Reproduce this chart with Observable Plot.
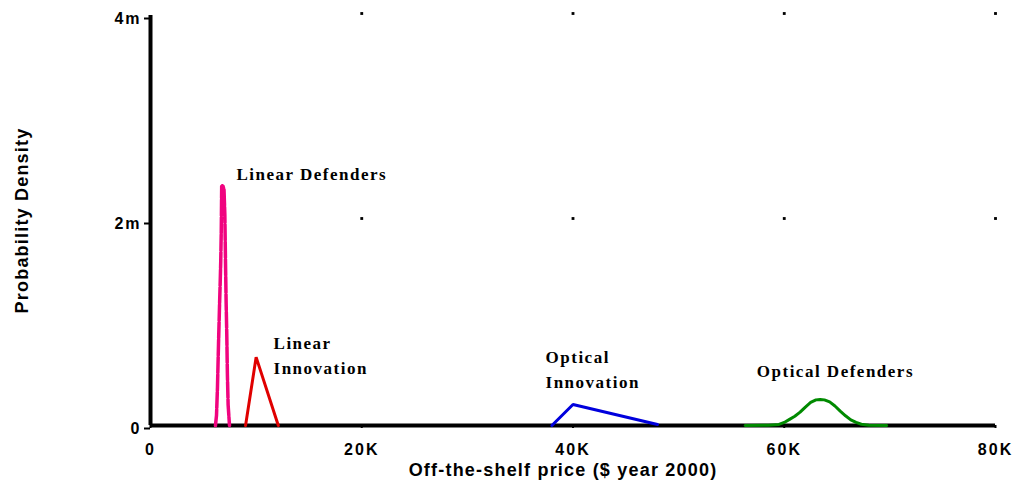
<!DOCTYPE html>
<html>
<head>
<meta charset="utf-8">
<script src="https://cdn.jsdelivr.net/npm/d3@7"></script>
<script src="https://cdn.jsdelivr.net/npm/@observablehq/plot@0.6"></script>
<style>
  html, body { margin: 0; padding: 0; background: #fff; }
  #chart svg { display: block; }
  g[aria-label="x-axis tick label"] text, g[aria-label="y-axis tick label"] text { letter-spacing: 2px; }
</style>
</head>
<body>
<div id="chart"></div>
<script>
// Tick values
const xTicks = [0, 20000, 40000, 60000, 80000];
const yTicks = [0, 0.002, 0.004];
const gridX = [20000, 40000, 60000, 80000];
const gridY = [0.002, 0.004];

// Linear Defenders (price $, density per $ in thousandths)
const ldPrice   = [6150, 6250, 6340, 6440, 6530, 6600, 6650, 6700, 6740, 6850, 6960, 7040, 7100, 7160, 7220, 7280, 7350, 7480];
const ldDensity = [0, 0.1, 0.37, 0.8, 1.15, 1.4, 1.6, 1.9, 2.34, 2.34, 2.3, 2.05, 1.6, 1.2, 0.9, 0.5, 0.2, 0];

// Linear Innovation
const liPrice   = [9000, 10000, 12100];
const liDensity = [0, 0.667, 0];

// Optical Innovation
const oiPrice   = [38000, 40000, 48000];
const oiDensity = [0, 0.205, 0.01];

// Optical Defenders
const odPrice   = [56300, 58500, 59500, 60000, 60500, 61000, 61500, 62000, 62500, 63000, 63400, 63800, 64300, 64800, 65300, 65800, 66300, 66800, 67300, 68000, 69700];
const odDensity = [0, 0.002, 0.01, 0.03, 0.06, 0.09, 0.13, 0.18, 0.225, 0.25, 0.254, 0.25, 0.23, 0.19, 0.14, 0.095, 0.055, 0.03, 0.012, 0.003, 0];

// Curve labels (anchored in data units)
const labelText  = ["Linear Defenders", "Linear\nInnovation", "Optical\nInnovation", "Optical Defenders"];
const labelPrice = [8140, 11650, 37400, 57400];
const labelDens  = [2.475, 0.70, 0.565, 0.547];

const xTitle = "Off-the-shelf price ($ year 2000)";
const yTitle = "Probability Density";

const series = [
  {price: ldPrice, dens: ldDensity, color: "#F0047F", dash: "16,1.5", width: 3.5},
  {price: liPrice, dens: liDensity, color: "#E00000", dash: null, width: 3},
  {price: oiPrice, dens: oiDensity, color: "#0000DD", dash: null, width: 3},
  {price: odPrice, dens: odDensity, color: "#008A00", dash: null, width: 3}
];
const toRows = s => s.price.map((p, i) => ({x: p, y: s.dens[i] / 1000}));
const labels = labelText.map((t, i) => ({x: labelPrice[i], y: labelDens[i] / 1000, t}));
const grid = gridX.flatMap(x => gridY.map(y => ({x, y})));

const sans = "'Liberation Sans', Arial, sans-serif";
const serif = "'Liberation Serif', 'Times New Roman', serif";

const chart = Plot.plot({
  width: 1018,
  height: 485,
  marginLeft: 150,
  marginRight: 23,
  marginTop: 15,
  marginBottom: 60,
  style: {background: "#fff", color: "#000"},
  x: {domain: [0, 80000]},
  y: {domain: [0, 0.004]},
  marks: [
    Plot.dot(grid, {x: "x", y: "y", symbol: "square", r: 1.6, fill: "#000", dy: -2}),
    Plot.axisX({ticks: xTicks, tickFormat: d => d === 0 ? "0" : (d / 1000) + "K", tickSize: 3, tickPadding: 15, label: null,
      fontFamily: sans, fontWeight: "bold", fontSize: 16, strokeWidth: 2}),
    Plot.axisY({ticks: yTicks, tickFormat: d => d === 0 ? "0" : Math.round(d * 1000) + "m", tickSize: 6, tickPadding: 3, label: null,
      fontFamily: sans, fontWeight: "bold", fontSize: 16, dy: 3, strokeWidth: 2}),
    Plot.ruleX([0], {strokeWidth: 4, stroke: "#000"}),
    Plot.ruleY([0], {strokeWidth: 4, stroke: "#000"}),
    ...series.map(s => Plot.line(toRows(s), {x: "x", y: "y", stroke: s.color, strokeWidth: s.width, strokeDasharray: s.dash, strokeLinejoin: "miter"})),
    Plot.text(labels, {x: "x", y: "y", text: "t", textAnchor: "start", lineAnchor: "middle", lineHeight: 1.47,
      fontFamily: serif, fontWeight: "bold", fontSize: 17, fill: "#000"}),
    Plot.text([xTitle], {frameAnchor: "bottom", dy: 50, dx: -10, textAnchor: "middle", fontFamily: sans, fontWeight: "bold", fontSize: 18, fill: "#000"}),
    Plot.text([yTitle], {frameAnchor: "left", dx: -128, rotate: -90, textAnchor: "middle", fontFamily: sans, fontWeight: "bold", fontSize: 18, fill: "#000"})
  ]
});

const textGroups = chart.querySelectorAll('g[aria-label="text"]');
if (textGroups[0]) textGroups[0].style.letterSpacing = "1.5px";
if (textGroups[1]) textGroups[1].style.letterSpacing = "1.2px";
if (textGroups[2]) textGroups[2].style.letterSpacing = "1.2px";

document.getElementById("chart").appendChild(chart);
</script>
</body>
</html>
